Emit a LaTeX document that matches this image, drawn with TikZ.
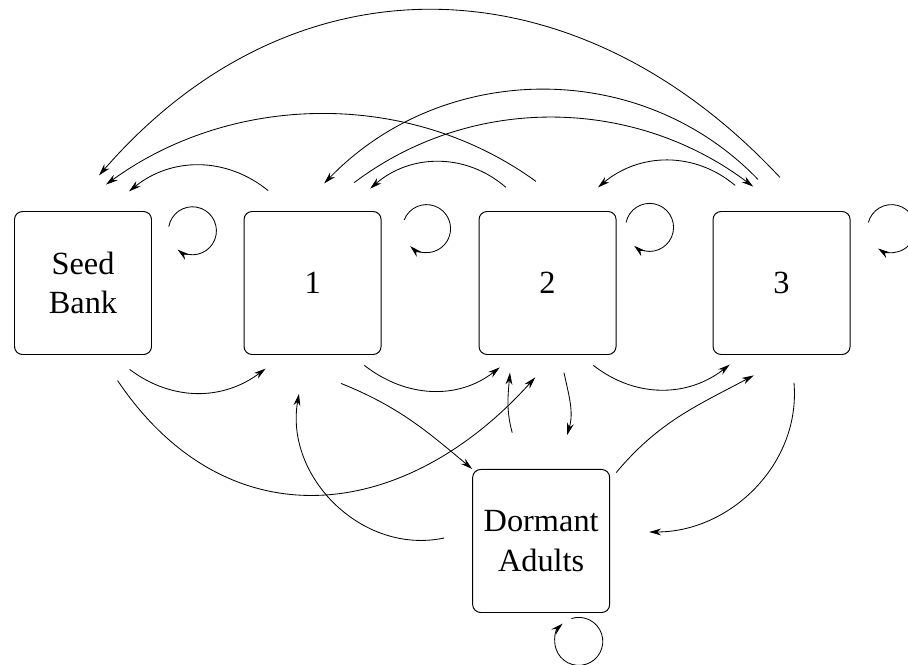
\documentclass[tikz,border=0pt]{standalone}
\usepackage{fontspec}
\setmainfont{Liberation Serif}
\usepackage{tikz}
\usetikzlibrary{arrows.meta}
\usetikzlibrary{positioning}
\tikzset{
    stage/.style = {
        rectangle,
        rounded corners=0.2cm,
        minimum width=3.425cm,
        minimum height=3.575cm,
        align=center,
        line width=0.7pt,
        font=\fontsize{23}{28}\selectfont,
        draw,
    },
}
\tikzstyle{arrow} = [line width=0.6pt,->,>={Stealth[length=3mm,width=1.7mm]}]

\begin{document}
\begin{tikzpicture}[]
        \useasboundingbox (0,0) rectangle (22.7,-16.6);

        \node(seedBank) [stage] at (2.075,-7.075)
        {Seed\\Bank};
        \node(stage1) [stage, right = 2.29cm of seedBank]
        {1};
        \node(stage2) [stage, right = 2.425cm of stage1]
        {2};
        \node(stage3) [stage, right = 2.4cm of stage2]
        {3};
        \node(dormant) [stage, below = 2.85cm of stage2, xshift=-1.6mm]
        {Dormant\\Adults};

        % arcs above the boxes
        \draw [arrow] ([shift={(-0.04,0.84)}]stage3.north) to[out=133,in=49,looseness=1.12] ([shift={(0.4,0.89)}]seedBank.north);
        \draw [arrow] ([shift={(-0.29,0.74)}]stage2.north) to[out=144,in=36,looseness=0.93] ([shift={(0.575,0.66)}]seedBank.north);
        \draw [arrow] ([shift={(-1.11,0.51)}]stage1.north) to[out=141,in=39] ([shift={(1.15,0.49)}]seedBank.north);
        \draw [arrow] ([shift={(-0.59,0.79)}]stage3.north) to[out=134,in=46] ([shift={(0.29,0.69)}]stage1.north);
        \draw [arrow] ([shift={(1.04,0.71)}]stage1.north) to[out=37,in=143,looseness=0.95] ([shift={(-0.71,0.61)}]stage3.north);
        \draw [arrow] ([shift={(-1.04,0.59)}]stage2.north) to[out=139,in=41] ([shift={(1.44,0.56)}]stage1.north);
        \draw [arrow] ([shift={(-1.16,0.64)}]stage3.north) to[out=140,in=40] ([shift={(1.26,0.59)}]stage2.north);

        % self loops
        \draw [arrow] ([shift={(0.42,-0.39)}]seedBank.north east) arc[start angle=170, end angle=-128, radius=0.6];
        \draw [arrow] ([shift={(0.565,-0.225)}]stage1.north east) arc[start angle=159, end angle=-133, radius=0.6];
        \draw [arrow] ([shift={(0.238,-0.285)}]stage2.north east) arc[start angle=168, end angle=-130, radius=0.6];
        \draw [arrow] ([shift={(0.445,-0.285)}]stage3.north east) arc[start angle=165, end angle=-124, radius=0.6];
        \draw [arrow] ([shift={(0.755,-0.139)}]dormant.south) arc[start angle=108, end angle=-227.5, radius=0.6];

        % arcs below the boxes
        \draw [arrow] ([shift={(-0.56,-0.36)}]seedBank.south east) to[out=-37,in=-143] ([shift={(0.55,-0.34)}]stage1.south west);
        \draw [arrow] ([shift={(-0.43,-0.26)}]stage1.south east) to[out=-38,in=-142] ([shift={(0.53,-0.31)}]stage2.south west);
        \draw [arrow] ([shift={(-0.58,-0.26)}]stage2.south east) to[out=-38,in=-142] ([shift={(0.43,-0.24)}]stage3.south west);
        \draw [arrow] ([shift={(-0.86,-0.64)}]seedBank.south east) to[out=-56,in=-132,looseness=1.2] ([shift={(-0.31,-0.56)}]stage2.south);
        \draw [arrow] ([shift={(0.71,-0.71)}]stage1.south) to[out=-22,in=140] (dormant.north west);
        \draw [arrow] ([shift={(-0.7,0.075)}]dormant.west) to[out=192,in=-100,looseness=1.05] ([shift={(-0.34,-0.97)}]stage1.south);
        \draw [arrow] ([shift={(-0.725,0.91)}]dormant.north) to[out=105,in=-95] ([shift={(-0.94,-0.44)}]stage2.south);
        \draw [arrow] ([shift={(0.41,-0.44)}]stage2.south) to[out=-78,in=74] ([shift={(0.65,0.85)}]dormant.north);
        \draw [arrow] ([shift={(0.15,-0.09)}]dormant.north east) to[out=50,in=-152] ([shift={(1.03,-0.51)}]stage3.south west);
        \draw [arrow] ([shift={(0.31,-0.69)}]stage3.south) to[out=-85,in=0] ([shift={(0.975,0.225)}]dormant.east);

    \end{tikzpicture}
\end{document}
